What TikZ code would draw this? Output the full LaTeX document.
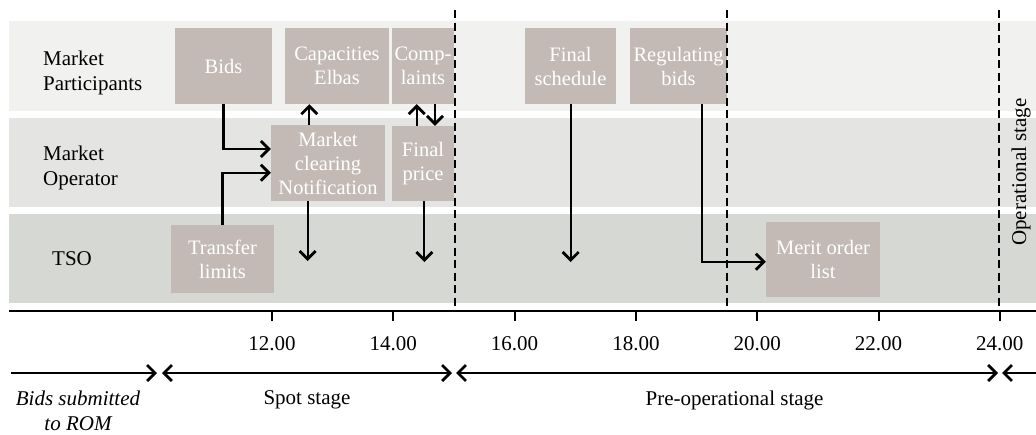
\documentclass[tikz,border=0pt]{standalone}
\usepackage{fontspec}
\setmainfont{Liberation Serif}
\usetikzlibrary{arrows.meta}
\definecolor{bandA}{HTML}{F1F1EF}
\definecolor{bandB}{HTML}{E4E4E2}
\definecolor{bandC}{HTML}{D6D8D4}
\definecolor{boxc}{HTML}{C3BAB5}
\begin{document}
\begin{tikzpicture}[x=1pt,y=-1pt,
  lbl/.style={font=\fontsize{21}{25}\selectfont, align=left, inner sep=0pt},
  boxnode/.style={fill=boxc, text=white, font=\fontsize{20.5}{24}\selectfont, align=center, inner sep=0pt},
  tipA/.tip={Straight Barb[length=8pt,width=16pt,line width=2.8pt]},
  arr/.style={line width=2.2pt, -tipA},
  stagearr/.style={line width=2.2pt, tipA-tipA},
  dashline/.style={line width=2pt, dash pattern=on 8pt off 4.5pt},
  axisline/.style={line width=2.2pt},
  tickline/.style={line width=2pt},
  ticklbl/.style={font=\fontsize{21}{24}\selectfont, anchor=base, inner sep=0pt},
  stagelbl/.style={font=\fontsize{21}{25}\selectfont, inner sep=0pt, align=center}]
\useasboundingbox (0,0) rectangle (1036,434);
% bands
\fill[bandA] (9,21) rectangle (1036,110.7);
\fill[bandB] (9,118) rectangle (1036,207);
\fill[bandC] (9,214) rectangle (1036,303);
% row labels
\node[lbl, anchor=west] (mp) at (43,73) {Market\\Participants};
\node[lbl, anchor=west] (mo) at (43,168) {Market\\Operator};
\node[lbl, anchor=base west] (tso) at (52,265) {TSO};
% boxes
\node[boxnode, minimum width=97pt, minimum height=76pt] (bids) at (223.5,66) {Bids};
\node[boxnode, minimum width=104pt, minimum height=76pt] (cap) at (337,66) {Capacities\\Elbas};
\node[boxnode, minimum width=62pt, minimum height=76pt] (comp) at (423,66) {Comp-\\laints};
\node[boxnode, minimum width=114pt, minimum height=76pt] (mc) at (328,163) {Market\\clearing\\Notification};
\node[boxnode, minimum width=62pt, minimum height=75pt] (fp) at (423,163.5) {Final\\price};
\node[boxnode, minimum width=103pt, minimum height=68pt] (tl) at (222.5,259) {Transfer\\limits};
\node[boxnode, minimum width=91pt, minimum height=76pt] (fs) at (570.5,66) {Final\\schedule};
\node[boxnode, minimum width=97pt, minimum height=76pt] (rb) at (678.5,66) {Regulating\\bids};
\node[boxnode, minimum width=114pt, minimum height=75pt] (mol) at (823,259.5) {Merit order\\list};
% dashed stage boundaries
\coordinate (d1t) at (455,10); \coordinate (d1b) at (455,311);
\coordinate (d2t) at (727,10); \coordinate (d2b) at (727,311);
\coordinate (d3t) at (999,10); \coordinate (d3b) at (999,311);
\draw[dashline] (d1t) -- (d1b);
\draw[dashline] (d2t) -- (d2b);
\draw[dashline] (d3t) -- (d3b);
\node[stagelbl, rotate=90] (ops) at (1021,172) {Operational stage};
% connectors
\draw[arr] (bids.south) |- (mc.west |- 0,149);
\draw[arr] (tl.north) |- (mc.west |- 0,172.7);
\draw[arr] (mc.north -| 309.3,0) -- (cap.south -| 309.3,0);
\draw[arr] (fp.north -| 416.7,0) -- (comp.south -| 416.7,0);
\draw[arr] (comp.south -| 435,0) -- (fp.north -| 435,0);
\coordinate (mcend) at (307.7,261);
\coordinate (fpend) at (424.3,262);
\coordinate (fsend) at (570.7,262);
\draw[arr] (mc.south -| mcend) -- (mcend);
\draw[arr] (fp.south -| fpend) -- (fpend);
\draw[arr] (fs.south -| fsend) -- (fsend);
\draw[arr] (rb.south -| 702.3,0) |- (mol.west |- 0,261.7);
% time axis
\coordinate (ax0) at (9,311); \coordinate (ax1) at (1036,311);
\draw[axisline] (ax0) -- (ax1);
\foreach \t/\lab in {12/12.00,14/14.00,16/16.00,18/18.00,20/20.00,22/22.00,24/24.00}{
  \pgfmathsetmacro{\xx}{272+(\t-12)*60.65}
  \draw[tickline] (\xx,311) -- (\xx,321);
  \node[ticklbl] (tick\t) at (\xx,350) {\lab};
}
% stage arrows
\coordinate (s0a) at (11,373); \coordinate (s0b) at (157,373);
\coordinate (s1a) at (162,373); \coordinate (s1b) at (452,373);
\coordinate (s2a) at (456,373); \coordinate (s2b) at (998,373);
\coordinate (s3a) at (1002,373); \coordinate (s3b) at (1040,373);
\draw[arr] (s0a) -- (s0b);
\draw[stagearr] (s1a) -- (s1b);
\draw[stagearr] (s2a) -- (s2b);
\draw[arr] (s3b) -- (s3a);
\node[stagelbl, font=\fontsize{21}{25}\selectfont\itshape] (bsub) at (78,411) {Bids submitted\\to ROM};
\node[stagelbl, anchor=base] (spot) at (307,404) {Spot stage};
\node[stagelbl, anchor=base] (preop) at (734.6,405) {Pre-operational stage};
\end{tikzpicture}
\end{document}
